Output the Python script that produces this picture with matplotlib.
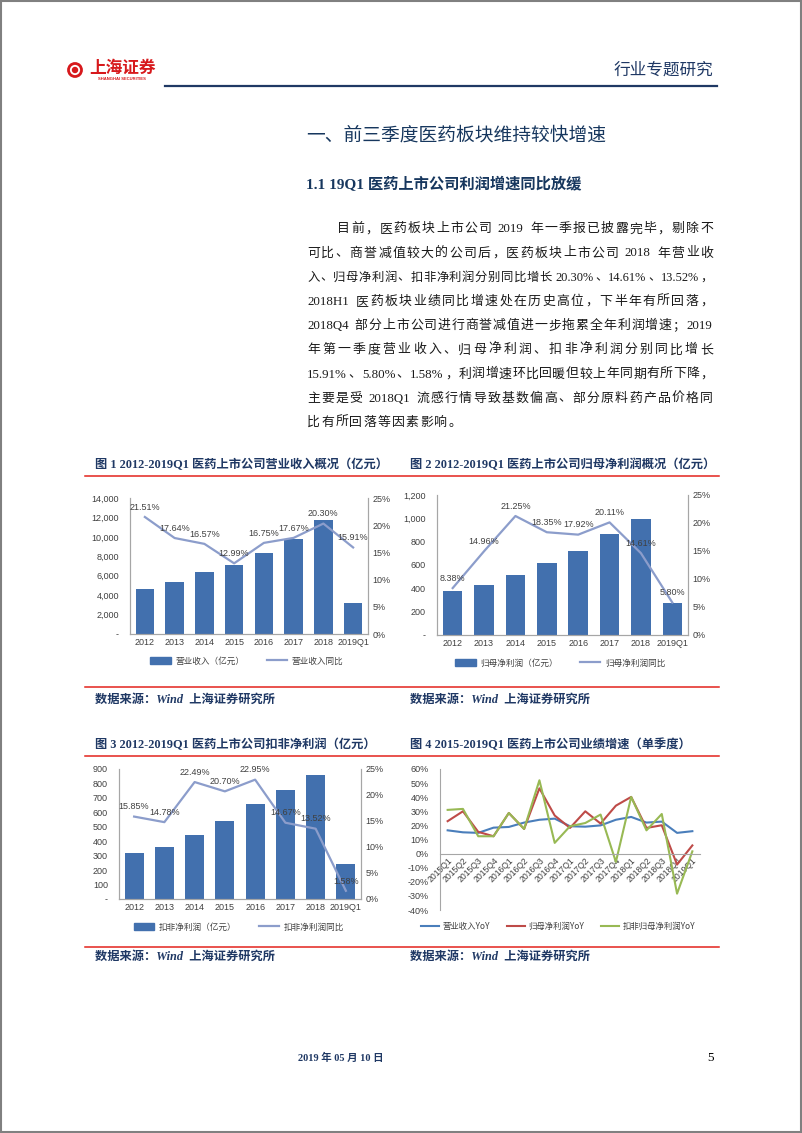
import re
import numpy as np
import matplotlib
matplotlib.use('Agg')
import matplotlib.pyplot as plt
from matplotlib.ticker import FuncFormatter
from matplotlib.patches import Rectangle, Circle
from matplotlib.lines import Line2D

W, H = 802, 1133
plt.rcParams['font.family'] = ['Liberation Sans', 'Noto Sans CJK SC']
plt.rcParams['axes.unicode_minus'] = False

# ---- data ----
years = ['2012', '2013', '2014', '2015', '2016', '2017', '2018', '2019Q1']
revenue = [4610, 5400, 6360, 7150, 8290, 9800, 11730, 3200]
revenue_yoy = [21.51, 17.64, 16.57, 12.99, 16.75, 17.67, 20.30, 15.91]
np_parent = [373, 430, 513, 615, 724, 866, 991, 276]
np_parent_yoy = [8.38, 14.96, 21.25, 18.35, 17.92, 20.11, 14.61, 5.80]
np_deducted = [316, 362, 445, 537, 659, 753, 859, 240]
np_deducted_yoy = [15.85, 14.78, 22.49, 20.70, 22.95, 14.67, 13.52, 1.58]

quarters = ['2015Q1', '2015Q2', '2015Q3', '2015Q4', '2016Q1', '2016Q2', '2016Q3', '2016Q4',
            '2017Q1', '2017Q2', '2017Q3', '2017Q4', '2018Q1', '2018Q2', '2018Q3', '2018Q4', '2019Q1']
q_revenue_yoy = [16.5, 15.1, 14.7, 18.4, 18.9, 22.0, 24.0, 24.8, 19.4, 19.1, 20.0, 24.0, 26.0, 22.0, 22.7, 14.7, 15.9]
q_parent_yoy = [23.0, 30.0, 15.4, 12.3, 28.8, 17.5, 46.3, 27.0, 18.2, 30.0, 21.3, 34.0, 40.2, 18.2, 20.1, -7.8, 5.8]
q_deducted_yoy = [31.0, 31.7, 12.3, 12.3, 28.8, 17.5, 52.0, 7.6, 19.4, 21.7, 27.7, -5.9, 40.2, 16.5, 28.1, -28.4, 1.6]

paragraph = [
    '目前，医药板块上市公司 2019 年一季报已披露完毕，剔除不',
    '可比、商誉减值较大的公司后，医药板块上市公司 2018 年营业收',
    '入、归母净利润、扣非净利润分别同比增长 20.30%、14.61%、13.52%，',
    '2018H1 医药板块业绩同比增速处在历史高位，下半年有所回落，',
    '2018Q4 部分上市公司进行商誉减值进一步拖累全年利润增速；2019',
    '年第一季度营业收入、归母净利润、扣非净利润分别同比增长',
    '15.91%、5.80%、1.58%，利润增速环比回暖但较上年同期有所下降，',
    '主要是受 2018Q1 流感行情导致基数偏高、部分原料药产品价格同',
    '比有所回落等因素影响。',
]

NAVY = '#1F3864'
RED = '#E3231C'
BAR = '#4270AE'
LINE = '#8C9DCB'
GRAY = '#A6A6A6'
TXT = '#404040'
SERIF = ['Liberation Serif', 'Noto Sans CJK SC']
CJK = ['Noto Sans CJK SC', 'DejaVu Sans']

fig = plt.figure(figsize=(W / 100, H / 100), dpi=100)
bg = fig.add_axes([0, 0, 1, 1])
bg.set_xlim(0, W)
bg.set_ylim(H, 0)
bg.axis('off')
r = fig.canvas.get_renderer()


def px_axes(l, t, rr, b):
    return fig.add_axes([l / W, 1 - b / H, (rr - l) / W, (b - t) / H])


# page border
bg.add_patch(Rectangle((1, 1), W - 2.5, H - 2.5, fill=False, ec='#808080', lw=1.5))

# header
bg.add_patch(Circle((75, 70), 6.5, fill=False, ec='#D7191C', lw=2))
bg.add_patch(Circle((75, 70), 2.5, color='#D7191C'))
bg.text(122, 68, '上海证券', fontsize=12, family=CJK, weight='bold', color='#D7191C',
        ha='center', va='center')
bg.text(122, 79, 'SHANGHAI SECURITIES', fontsize=3, color='#D7191C', weight='bold',
        ha='center', va='center')
bg.plot([165, 717], [86, 86], color=NAVY, lw=1.6)
bg.text(713, 70, '行业专题研究', fontsize=12, family=CJK, color=NAVY, ha='right', va='center')

# titles
bg.text(306, 135, '一、前三季度医药板块维持较快增速', fontsize=13.5, family=CJK,
        weight='medium', color='#17375E', ha='left', va='center')
bg.text(306, 185, '1.1 19Q1 医药上市公司利润增速同比放缓', fontsize=11, family=SERIF,
        weight='bold', color='#17375E', ha='left', va='center')

# paragraph, justified
PFS = 9.3
ASC = re.compile(r'[A-Za-z0-9.%]+')
PUNCT = '，、；。：'


def para_line(s, y, x0, x1, justify=True):
    toks = re.findall(r'[A-Za-z0-9.%]+| |[^\sA-Za-z0-9.%]', s)
    texts = []
    for t in toks:
        if t == ' ':
            texts.append((t, None))
        else:
            texts.append((t, bg.text(0, y, t, fontsize=PFS, family=SERIF, color='#1a1a1a',
                                     ha='left', va='baseline')))
    fs = PFS
    for _ in range(5):
        em = fs * 100 / 72
        widths = []
        for t, txt in texts:
            if txt is None:
                widths.append(0.25 * em)
                continue
            w = txt.get_window_extent(r).width
            if ASC.fullmatch(t):
                w += 1
            elif t not in PUNCT:
                w = max(w, em)
            widths.append(w)
        total = sum(widths)
        if not justify or total + 0.5 * (len(widths) - 1) <= x1 - x0:
            break
        fs *= (x1 - x0 - 0.5 * (len(widths) - 1)) / total * 0.995
        for t, txt in texts:
            if txt is not None:
                txt.set_fontsize(fs)
    gap = (x1 - x0 - total) / (len(widths) - 1) if justify else 1.2
    x = x0
    for (t, txt), w in zip(texts, widths):
        if txt is not None:
            txt.set_x(x)
        x += w + gap


for i, line in enumerate(paragraph):
    yb = 227.3 + i * 24.2 + 5
    x0 = 337 if i == 0 else 307
    para_line(line, yb, x0, 713, justify=(i < len(paragraph) - 1))

# captions / rules / sources
captions = [
    (95, 465, '图 1 2012-2019Q1 医药上市公司营业收入概况（亿元）'),
    (410, 465, '图 2 2012-2019Q1 医药上市公司归母净利润概况（亿元）'),
    (95, 745, '图 3 2012-2019Q1 医药上市公司扣非净利润（亿元）'),
    (410, 745, '图 4 2015-2019Q1 医药上市公司业绩增速（单季度）'),
]
for x, y, s in captions:
    bg.text(x, y, s, fontsize=8.8, family=SERIF, weight='bold', color=NAVY, ha='left', va='center')
for y in [476, 687, 756, 947]:
    bg.plot([85, 719], [y, y], color=RED, lw=1.1)
for x, y in [(95, 700), (410, 700), (95, 957), (410, 957)]:
    bg.text(x, y, '数据来源：Wind  上海证券研究所', fontsize=8.8, family=SERIF, weight='bold',
            style='italic', color=NAVY, ha='left', va='center')

# footer
bg.text(341, 1058, '2019 年 05 月 10 日', fontsize=7.5, family=SERIF, weight='bold',
        color=NAVY, ha='center', va='center')
bg.text(711, 1058, '5', fontsize=9.5, family=SERIF, color='black', ha='center', va='center')


def style_axis(ax):
    ax.spines['top'].set_visible(False)
    for s in ['left', 'right', 'bottom']:
        ax.spines[s].set_color(GRAY)
        ax.spines[s].set_linewidth(0.8)
    ax.tick_params(labelsize=6.5, colors=TXT, length=0, pad=3)
    ax.patch.set_visible(False)


def combo(rect, bars, pct, ymax, ystep, bar_label, line_label, leg_xy):
    ax = px_axes(*rect)
    x = np.arange(len(years))
    ax.bar(x, bars, width=0.62, color=BAR)
    ax.set_xlim(-0.5, len(years) - 0.5)
    ax.set_ylim(0, ymax)
    ax.set_yticks(np.arange(0, ymax + 1, ystep))
    ax.yaxis.set_major_formatter(FuncFormatter(lambda v, p: '-' if v == 0 else f'{v:,.0f}'))
    ax.set_xticks(x)
    ax.set_xticklabels(years)
    style_axis(ax)
    ax.tick_params(axis='y', pad=8)
    ax2 = ax.twinx()
    ax2.plot(x, pct, color=LINE, lw=1.6)
    ax2.set_ylim(0, 25)
    ax2.set_yticks(range(0, 26, 5))
    ax2.yaxis.set_major_formatter(FuncFormatter(lambda v, p: f'{v:.0f}%'))
    style_axis(ax2)
    for xi, p in zip(x, pct):
        ax2.annotate(f'{p:.2f}%', (xi, p), xytext=(0, 7), textcoords='offset points',
                     ha='center', va='center', fontsize=6.5, color=TXT)
    handles = [Rectangle((0, 0), 1, 1, color=BAR), Line2D([], [], color=LINE, lw=1.6)]
    ax.legend(handles, [bar_label, line_label], loc='center',
              bbox_to_anchor=(leg_xy[0] / W, 1 - leg_xy[1] / H), bbox_transform=fig.transFigure,
              ncol=2, frameon=False, prop={'family': CJK, 'size': 6.2}, handlelength=2.4,
              handleheight=0.9, handletextpad=0.5, columnspacing=2.6, labelcolor=TXT)


combo((130, 498, 368, 634), revenue, revenue_yoy, 14000, 2000,
      '营业收入（亿元）', '营业收入同比', (247, 661))
combo((437, 495, 688, 635), np_parent, np_parent_yoy, 1200, 200,
      '归母净利润（亿元）', '归母净利润同比', (560, 663))
combo((119, 769, 361, 899), np_deducted, np_deducted_yoy, 900, 100,
      '扣非净利润（亿元）', '扣非净利润同比', (239, 927))

# chart 4
ax = px_axes(440, 769, 700, 910)
xq = np.arange(len(quarters))
c1, c2, c3 = '#4A7EBB', '#BE4B48', '#98B954'
ax.plot(xq, q_revenue_yoy, color=c1, lw=1.5, label='营业收入YoY')
ax.plot(xq, q_parent_yoy, color=c2, lw=1.5, label='归母净利润YoY')
ax.plot(xq, q_deducted_yoy, color=c3, lw=1.5, label='扣非归母净利润YoY')
ax.set_xlim(-0.5, len(quarters) - 0.5)
ax.set_ylim(-40, 60)
ax.spines['bottom'].set_position(('data', 0))
style_axis(ax)
ax.spines['right'].set_visible(False)
ax.set_yticks(range(-40, 61, 10))
ax.yaxis.set_major_formatter(FuncFormatter(lambda v, p: f'{v:.0f}%'))
ax.set_xticks(xq)
ax.set_xticklabels(quarters, rotation=45, ha='right', rotation_mode='anchor', fontsize=6.2)
ax.tick_params(axis='x', pad=2)
ax.tick_params(axis='y', pad=8)
ax.legend(loc='center', bbox_to_anchor=(558 / W, 1 - 926 / H), bbox_transform=fig.transFigure,
          ncol=3, frameon=False, prop={'family': CJK, 'size': 6}, handlelength=2.2,
          handletextpad=0.4, columnspacing=2.0, labelcolor=TXT)

fig.savefig('out.png', dpi=100)
